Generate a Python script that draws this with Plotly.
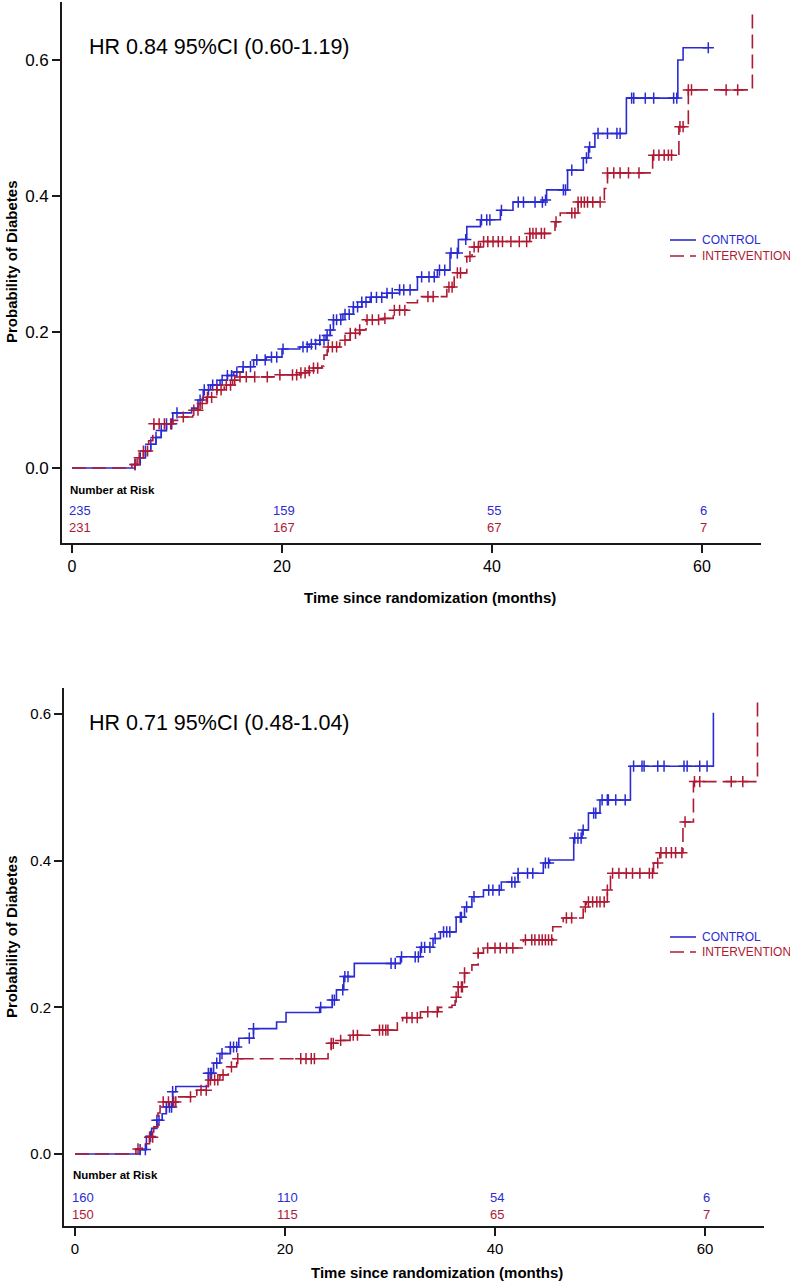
import plotly.graph_objects as go

BLUE = "#2b2bd2"
RED = "#ae1a33"
FONT = "Liberation Sans, Arial, Helvetica, sans-serif"

# ---------------- data ----------------
series_names = ["CONTROL", "INTERVENTION"]
hr_labels = ["HR 0.84 95%CI (0.60-1.19)", "HR 0.71 95%CI (0.48-1.04)"]
risk_times = [0, 20, 40, 60]

# Panel 1 (top)
top_ctrl_t = [0, 6.0, 6.5, 7.0, 7.5, 8.0, 8.5, 9.0, 9.6, 11.4, 12.0, 12.5, 13.2, 14.1, 14.8, 15.4,
              16.3, 17.3, 18.5, 20.0, 21.7, 22.6, 23.6, 24.2, 24.6, 24.9, 25.8, 26.8, 27.6, 28.4,
              30.0, 31.2, 32.9, 34.8, 36.0, 36.8, 37.6, 38.9, 40.8, 42.0, 44.9, 45.2, 47.2, 48.7,
              49.2, 49.8, 52.8, 57.7, 58.2, 60.6]
top_ctrl_p = [0, 0.005, 0.015, 0.025, 0.035, 0.045, 0.055, 0.065, 0.081, 0.088, 0.100, 0.115, 0.122,
              0.129, 0.136, 0.141, 0.149, 0.159, 0.163, 0.175, 0.178, 0.182, 0.188, 0.195, 0.203,
              0.218, 0.226, 0.237, 0.244, 0.251, 0.257, 0.262, 0.281, 0.291, 0.316, 0.336, 0.355,
              0.365, 0.379, 0.391, 0.394, 0.409, 0.438, 0.456, 0.472, 0.492, 0.544, 0.600, 0.618,
              0.618]
top_ctrl_cens = [6.0, 6.5, 7.0, 7.5, 8.0, 8.5, 9.0, 9.5, 10.0, 12.2, 12.6, 13.0, 13.4, 13.8, 14.3,
                 14.8, 15.2, 15.7, 16.3, 17.0, 17.6, 18.4, 19.0, 19.5, 20.1, 22.0, 22.4, 22.8, 23.2,
                 23.6, 24.0, 24.3, 24.6, 24.9, 25.2, 25.6, 26.0, 26.4, 26.8, 27.2, 27.6, 28.0, 28.5,
                 29.0, 29.5, 30.0, 30.5, 31.2, 31.6, 32.2, 33.3, 34.0, 34.5, 35.0, 35.5, 36.1, 36.7,
                 37.5, 39.0, 39.5, 39.8, 40.9, 42.5, 43.0, 44.1, 44.8, 45.1, 46.8, 47.0, 47.6, 49.0,
                 49.3, 50.1, 51.0, 51.9, 52.2, 53.3, 53.5, 54.6, 55.4, 57.3, 57.6, 60.6]
top_int_t = [0, 5.7, 6.2, 6.8, 7.3, 7.7, 7.8, 9.6, 10.3, 11.5, 12.2, 12.8, 13.8, 14.5, 15.3, 16.0,
             19.8, 21.7, 22.5, 23.0, 23.8, 24.0, 24.3, 25.5, 26.5, 27.4, 28.0, 29.3, 30.6, 31.9,
             32.9, 35.7, 36.4, 37.6, 38.1, 38.9, 43.6, 46.0, 46.5, 48.2, 50.7, 51.0, 55.3, 57.8,
             58.7, 64.8]
top_int_p = [0, 0.005, 0.015, 0.025, 0.040, 0.051, 0.065, 0.070, 0.075, 0.085, 0.095, 0.104, 0.115,
             0.122, 0.129, 0.134, 0.137, 0.140, 0.143, 0.147, 0.150, 0.166, 0.178, 0.188, 0.198,
             0.203, 0.218, 0.220, 0.232, 0.243, 0.252, 0.266, 0.287, 0.311, 0.325, 0.333, 0.345,
             0.362, 0.375, 0.391, 0.411, 0.434, 0.460, 0.502, 0.556, 0.670]
top_int_cens = [6.0, 6.4, 6.8, 7.2, 7.8, 8.3, 8.8, 9.4, 10.6, 11.6, 12.0, 12.4, 12.9, 13.3, 13.8,
                14.2, 14.7, 15.1, 15.5, 16.0, 16.6, 17.4, 18.6, 19.8, 21.0, 21.4, 21.8, 22.2, 22.6,
                23.0, 23.4, 24.4, 24.8, 25.2, 26.0, 26.5, 27.0, 27.4, 28.1, 28.6, 29.2, 29.8, 30.7,
                31.2, 31.7, 33.9, 34.4, 35.9, 36.2, 36.7, 37.0, 37.9, 38.3, 38.7, 39.2, 39.6, 40.1,
                40.6, 41.0, 41.8, 42.6, 43.3, 43.6, 43.9, 44.2, 44.7, 45.0, 46.1, 47.6, 47.9, 48.2,
                48.5, 48.8, 49.1, 49.6, 50.3, 51.0, 51.6, 52.2, 53.0, 54.0, 55.4, 55.9, 56.4, 56.8,
                57.1, 57.9, 58.2, 58.7, 59.0, 62.3, 63.4]
top_risk_ctrl = [235, 159, 55, 6]
top_risk_int = [231, 167, 67, 7]

# Panel 2 (bottom)
bot_ctrl_t = [0, 6.2, 6.8, 7.3, 7.8, 8.3, 8.7, 9.3, 9.6, 12.7, 13.2, 13.8, 14.8, 15.6, 17.0, 19.2,
              20.1, 23.3, 24.5, 24.9, 25.6, 26.6, 31.0, 32.9, 34.1, 34.8, 36.3, 37.1, 37.8, 38.9,
              40.6, 42.2, 44.6, 45.2, 47.5, 48.3, 48.9, 50.0, 52.9, 60.8]
bot_ctrl_p = [0, 0.006, 0.024, 0.035, 0.046, 0.055, 0.064, 0.085, 0.092, 0.110, 0.124, 0.137,
              0.146, 0.158, 0.171, 0.180, 0.193, 0.200, 0.210, 0.224, 0.242, 0.260, 0.269, 0.282,
              0.294, 0.303, 0.323, 0.337, 0.351, 0.360, 0.371, 0.383, 0.397, 0.401, 0.431, 0.442,
              0.465, 0.483, 0.529, 0.602]
bot_ctrl_cens = [6.2, 6.7, 7.2, 7.8, 8.0, 8.7, 9.0, 9.2, 9.3, 12.7, 12.9, 13.0, 13.5, 14.0, 14.8,
                 15.1, 15.4, 16.6, 17.0, 23.4, 24.5, 24.7, 25.5, 25.7, 26.0, 30.1, 30.5, 31.1, 32.4,
                 32.7, 33.0, 33.3, 33.8, 34.3, 35.1, 35.4, 35.7, 36.7, 36.8, 37.3, 38.0, 39.4, 39.8,
                 40.4, 41.6, 41.9, 42.2, 43.1, 43.6, 44.8, 45.1, 47.6, 47.9, 48.2, 48.4, 49.4, 49.6,
                 50.2, 50.7, 50.8, 51.5, 52.4, 53.2, 54.0, 54.2, 55.5, 56.1, 58.0, 58.3, 59.5, 60.2]
bot_int_t = [0, 5.8, 6.4, 7.1, 7.5, 7.9, 8.1, 9.7, 11.6, 12.7, 13.8, 14.6, 15.4, 24.1, 24.4, 25.2,
             26.2, 28.1, 30.7, 31.2, 32.9, 34.6, 35.9, 36.2, 36.5, 37.1, 37.8, 38.4, 38.9, 42.7,
             45.5, 46.5, 48.4, 48.7, 50.7, 51.0, 55.1, 55.7, 57.9, 58.9, 65.0]
bot_int_p = [0, 0.007, 0.014, 0.023, 0.037, 0.056, 0.071, 0.078, 0.087, 0.101, 0.108, 0.119,
             0.130, 0.139, 0.151, 0.155, 0.162, 0.169, 0.179, 0.186, 0.194, 0.200, 0.203, 0.214,
             0.228, 0.247, 0.258, 0.274, 0.281, 0.292, 0.310, 0.322, 0.337, 0.344, 0.360, 0.383,
             0.397, 0.411, 0.453, 0.508, 0.619]
bot_int_cens = [6.0, 7.1, 7.4, 8.4, 8.9, 9.4, 9.6, 11.0, 12.0, 12.5, 12.9, 13.3, 13.6, 14.1, 14.9,
                15.5, 21.5, 22.0, 22.5, 22.8, 24.4, 24.6, 25.3, 26.5, 26.9, 29.0, 29.3, 29.6, 29.8,
                31.6, 32.1, 32.6, 33.6, 34.5, 36.3, 36.5, 36.8, 36.9, 37.1, 38.4, 39.3, 40.0, 40.5,
                41.1, 41.7, 42.9, 43.5, 43.8, 44.2, 44.5, 44.8, 45.1, 45.4, 46.8, 47.3, 48.6, 48.9,
                49.3, 49.7, 50.0, 50.4, 50.7, 51.2, 51.8, 52.5, 53.1, 53.8, 54.7, 55.0, 55.5, 55.8,
                56.3, 56.8, 57.2, 57.8, 58.1, 59.0, 59.5, 62.5, 63.6]
bot_risk_ctrl = [160, 110, 54, 6]
bot_risk_int = [150, 115, 65, 7]


def step_at(ts, ps, t):
    val = ps[0]
    for ti, pi in zip(ts, ps):
        if ti <= t:
            val = pi
        else:
            break
    return val


DASH = "14px,6px"
fig = go.Figure()

panels = [
    dict(xa="x", ya="y",
         curves=[(top_ctrl_t, top_ctrl_p, top_ctrl_cens, BLUE, "solid"),
                 (top_int_t, top_int_p, top_int_cens, RED, DASH)]),
    dict(xa="x2", ya="y2",
         curves=[(bot_ctrl_t, bot_ctrl_p, bot_ctrl_cens, BLUE, "solid"),
                 (bot_int_t, bot_int_p, bot_int_cens, RED, DASH)]),
]

for panel in panels:
    for name, (ts, ps, cens, col, dash) in zip(series_names, panel["curves"]):
        fig.add_trace(go.Scatter(
            x=ts, y=ps, mode="lines", line=dict(shape="hv", color=col, width=1.6, dash=dash),
            name=name, showlegend=False,
            xaxis=panel["xa"], yaxis=panel["ya"], hoverinfo="skip"))
        fig.add_trace(go.Scatter(
            x=cens, y=[step_at(ts, ps, c) for c in cens], mode="markers",
            marker=dict(symbol="cross-thin", size=8, line=dict(color=col, width=1.5)),
            xaxis=panel["xa"], yaxis=panel["ya"], showlegend=False, hoverinfo="skip"))

W, H = 790, 1283


def px(xp):
    return xp / W


def py(yp):
    return 1 - yp / H


axis_common = dict(showgrid=False, zeroline=False, showline=True, linecolor="#1a1a1a", linewidth=1.6,
                   ticks="outside", ticklen=8, tickwidth=1.6, tickcolor="#1a1a1a")

fig.update_layout(
    width=W, height=H, margin=dict(l=0, r=0, t=0, b=0), autosize=False,
    paper_bgcolor="white", plot_bgcolor="white",
    font=dict(family=FONT, color="black"),
    xaxis=dict(domain=[px(62), px(761)], range=[-0.952, 65.62], anchor="y",
               tickvals=risk_times, tickfont=dict(size=16), **axis_common),
    yaxis=dict(domain=[py(543), py(2)], range=[-0.1103, 0.6853], anchor="x",
               tickvals=[0, 0.2, 0.4, 0.6], tickformat=".1f", tickfont=dict(size=17), **axis_common),
    xaxis2=dict(domain=[px(64), px(764)], range=[-1.048, 65.62], anchor="y2",
                tickvals=risk_times, tickfont=dict(size=15), **axis_common),
    yaxis2=dict(domain=[py(1226), py(688)], range=[-0.0982, 0.6357], anchor="x2",
                tickvals=[0, 0.2, 0.4, 0.6], tickformat=".1f", tickfont=dict(size=15), **axis_common),
    showlegend=False,
)

ann = []
shapes = []
# HR labels
ann.append(dict(text=hr_labels[0], xref="paper", yref="paper", x=px(87), y=py(47), xanchor="left",
                yanchor="middle", showarrow=False, font=dict(size=21.5)))
ann.append(dict(text=hr_labels[1], xref="paper", yref="paper", x=px(87), y=py(723), xanchor="left",
                yanchor="middle", showarrow=False, font=dict(size=21.5)))
# axis titles
for (xc, yc) in [(430, 597), (437, 1272)]:
    ann.append(dict(text="<b>Time since randomization (months)</b>", xref="paper", yref="paper",
                    x=px(xc), y=py(yc), xanchor="center", yanchor="middle", showarrow=False,
                    font=dict(size=15)))
for (xc, yc) in [(11, 262), (11, 937)]:
    ann.append(dict(text="<b>Probability of Diabetes</b>", xref="paper", yref="paper", textangle=-90,
                    x=px(xc), y=py(yc), xanchor="center", yanchor="middle", showarrow=False,
                    font=dict(size=15)))

# manual legends (line sample + coloured label)
for (y_c, y_i) in [(240, 256), (937, 952)]:
    for name, col, dash, yy in [(series_names[0], BLUE, "solid", y_c), (series_names[1], RED, DASH, y_i)]:
        shapes.append(dict(type="line", xref="paper", yref="paper", x0=px(670), x1=px(696),
                           y0=py(yy), y1=py(yy), line=dict(color=col, width=1.6, dash=dash)))
        ann.append(dict(text=name, xref="paper", yref="paper", x=px(700), y=py(yy), xanchor="left",
                        yanchor="middle", showarrow=False, font=dict(size=12, color=col)))

# Number at risk tables
risk_tables = [
    ("x", "y", top_risk_ctrl, top_risk_int, -0.032, -0.063, -0.088),
    ("x2", "y2", bot_risk_ctrl, bot_risk_int, -0.029, -0.059, -0.082),
]
for xr, yr, rc, ri, yl, yc, yi in risk_tables:
    ann.append(dict(text="<b>Number at Risk</b>", xref=xr, yref=yr, x=0, y=yl, xanchor="left",
                    xshift=-4, yanchor="middle", showarrow=False, font=dict(size=11.5)))
    for k, t in enumerate(risk_times):
        anchor = "left" if k == 0 else "center"
        shift = -5 if k == 0 else 2
        ann.append(dict(text=str(rc[k]), xref=xr, yref=yr, x=t, y=yc, xanchor=anchor, xshift=shift,
                        yanchor="middle", showarrow=False, font=dict(size=13, color=BLUE)))
        ann.append(dict(text=str(ri[k]), xref=xr, yref=yr, x=t, y=yi, xanchor=anchor, xshift=shift,
                        yanchor="middle", showarrow=False, font=dict(size=13, color=RED)))

fig.update_layout(annotations=ann, shapes=shapes)
fig.write_html("out.html", config={"responsive": False, "displayModeBar": False},
               post_script="document.body.style.margin='0px';document.body.style.overflow='hidden';")
